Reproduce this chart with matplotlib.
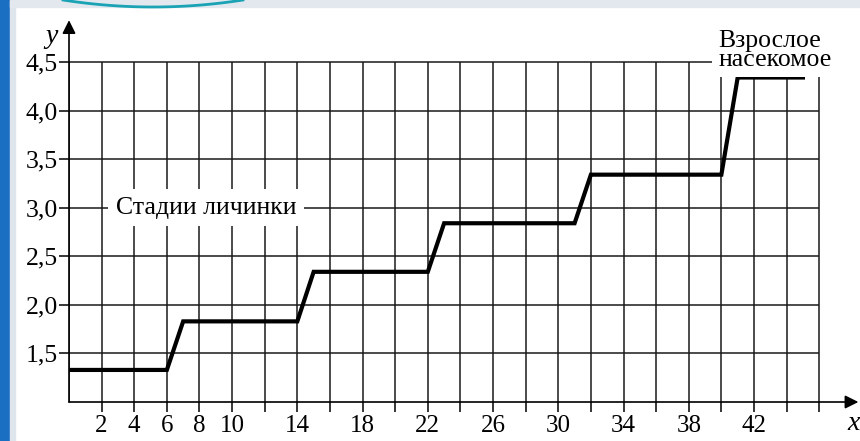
import matplotlib
matplotlib.use('Agg')
import matplotlib.pyplot as plt
from matplotlib.patches import Rectangle
from matplotlib.lines import Line2D
import numpy as np

# larva growth: age (x) vs size (y)
x_pts = [0, 6, 7, 14, 15, 22, 23, 31, 32, 40, 41, 45]
y_pts = [1.33, 1.33, 1.83, 1.83, 2.34, 2.34, 2.84, 2.84, 3.34, 3.34, 4.34, 4.34]

x_grid = list(range(0, 47, 2))
x_ticks = list(range(2, 47, 2))
x_labels = ['2', '4', '6', '8', '10', '14', '18', '22', '26', '30', '34', '38', '42']
y_ticks = [1.5, 2.0, 2.5, 3.0, 3.5, 4.0, 4.5]
y_labels = ['1,5', '2,0', '2,5', '3,0', '3,5', '4,0', '4,5']

plt.rcParams['font.family'] = ['Liberation Serif', 'DejaVu Serif']

W, H = 860, 441
fig = plt.figure(figsize=(W / 100, H / 100), dpi=100)
fig.patch.set_facecolor('white')

# screenshot frame
fig.add_artist(Rectangle((0, 0), 10 / W, 1, transform=fig.transFigure, color='#1b6fc2', zorder=0))
fig.add_artist(Rectangle((10 / W, 0), 5 / W, 1, transform=fig.transFigure, color='#dfe5ec', zorder=0))
fig.add_artist(Rectangle((10 / W, 1 - 7 / H), 1, 7 / H, transform=fig.transFigure, color='#e3e8ee', zorder=0))
t = np.linspace(-1, 1, 60)
fig.add_artist(Line2D((153 + 90 * t) / W, 1 - (7 - 7 * t ** 2) / H, transform=fig.transFigure,
                      color='#1aa3b5', lw=2, zorder=1))

x0, y0 = 69, 402
ax = fig.add_axes([x0 / W, (H - y0) / H, (W - x0) / W, 388.6 / H])
ax.set_xlim(0, 48.5)
ax.set_ylim(1.0, 5.0)
for s in ax.spines.values():
    s.set_visible(False)

grid_kw = dict(color='#1a1a1a', lw=1.1, zorder=1)
ax.vlines(x_grid, 1.0, 4.5, **grid_kw)
ax.hlines(y_ticks, 0, 46, **grid_kw)

ax.plot(x_pts, y_pts, color='black', lw=3, solid_joinstyle='miter', zorder=3)

labels = []
for v in x_ticks:
    labels.append(str(v) if str(v) in x_labels else '')
ax.set_xticks(x_ticks)
ax.set_xticklabels(labels)
ax.set_yticks(y_ticks)
ax.set_yticklabels(y_labels)
ax.tick_params(axis='x', length=7.5, width=1.1, direction='out', pad=2, labelsize=18)
ax.tick_params(axis='y', length=7, width=1.1, direction='out', pad=1, labelsize=18.5)

# axes arrows
ax.annotate('', xy=(48.4, 1.0), xytext=(0, 1.0),
            arrowprops=dict(arrowstyle='-|>', color='black', lw=1.2, mutation_scale=20,
                            shrinkA=0, shrinkB=0), annotation_clip=False)
ax.annotate('', xy=(0, 4.93), xytext=(0, 1.0),
            arrowprops=dict(arrowstyle='-|>', color='black', lw=1.2, mutation_scale=20,
                            shrinkA=0, shrinkB=0), annotation_clip=False)
ax.text(-1.1, 4.76, 'y', style='italic', fontsize=20, ha='center', va='center')
ax.text(48.1, 0.78, 'x', style='italic', fontsize=20, ha='center', va='center', clip_on=False)

ax.text(8.4, 3.0, 'Стадии личинки', fontsize=18.5, ha='center', va='center', zorder=4,
        bbox=dict(boxstyle='square,pad=0.3', facecolor='white', edgecolor='none'))
ax.text(39.8, 4.62, 'Взрослое\nнасекомое', fontsize=18.5, ha='left', va='center',
        linespacing=0.85, zorder=4,
        bbox=dict(boxstyle='square,pad=0.25', facecolor='white', edgecolor='none'))

fig.savefig('out.png', dpi=100)
